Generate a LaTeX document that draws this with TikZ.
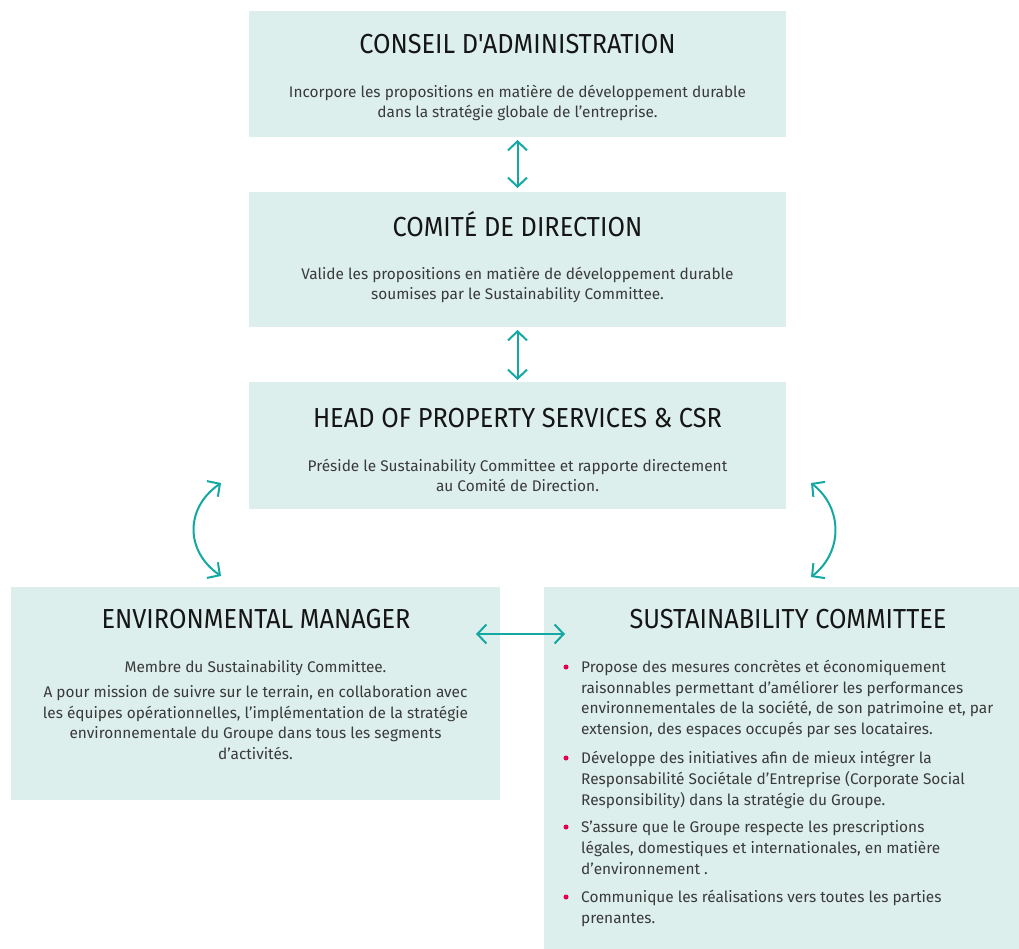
\documentclass[tikz,border=0pt]{standalone}
\usepackage{fontspec}
\setmainfont{Fira Sans}
\newfontfamily\titlefont[FakeStretch=0.92]{Fira Sans}
\usetikzlibrary{arrows.meta}
\definecolor{boxfill}{HTML}{DCEFED}
\definecolor{arrowteal}{HTML}{13A8A1}
\definecolor{bulletred}{HTML}{E2004C}
\definecolor{bodytext}{HTML}{3A3A3A}
\definecolor{titletext}{HTML}{151515}
\tikzset{
 box/.style={fill=boxfill, draw=none, anchor=north west, inner sep=0pt, outer sep=0pt},
 ttl/.style={anchor=base, font=\titlefont\fontsize{27.5}{30}\selectfont, text=titletext, inner sep=0pt},
 body/.style={anchor=base, font=\fontsize{15.4}{20}\selectfont, text=bodytext, inner sep=0pt},
 bodyl/.style={body, anchor=base west},
 link/.style={draw=arrowteal, line width=2pt, line cap=round, {Straight Barb[length=9pt,width=19pt]}-{Straight Barb[length=9pt,width=19pt]}},
 dot/.style={circle, fill=bulletred, minimum size=5pt, inner sep=0pt},
}
\begin{document}
\begin{tikzpicture}[x=1pt,y=-1pt]
\useasboundingbox (0,0) rectangle (1019,949);
% boxes
\node[box, minimum width=537pt, minimum height=126pt] (b1) at (249,11) {};
\node[box, minimum width=537pt, minimum height=135pt] (b2) at (249,192) {};
\node[box, minimum width=537pt, minimum height=127pt] (b3) at (249,382) {};
\node[box, minimum width=489pt, minimum height=213pt] (b4) at (11,587) {};
\node[box, minimum width=475pt, minimum height=362pt] (b5) at (544,587) {};
% box 1
\node[ttl] (t1) at (517.5,54) {CONSEIL D'ADMINISTRATION};
\node[body] (l11) at (517.5,98) {Incorpore les propositions en matière de développement durable};
\node[body] (l12) at (517.5,118) {dans la stratégie globale de l'entreprise.};
% box 2
\node[ttl] (t2) at (517.5,236.5) {COMITÉ DE DIRECTION};
\node[body] (l21) at (517.5,280) {Valide les propositions en matière de développement durable};
\node[body] (l22) at (517.5,300) {soumises par le Sustainability Committee.};
% box 3
\node[ttl] (t3) at (517.5,427) {HEAD OF PROPERTY SERVICES \& CSR};
\node[body] (l31) at (517.5,471) {Préside le Sustainability Committee et rapporte directement};
\node[body] (l32) at (517.5,491) {au Comité de Direction.};
% box 4
\node[ttl] (t4) at (256,628) {ENVIRONMENTAL MANAGER};
\node[body] (l41) at (255.5,672) {Membre du Sustainability Committee.};
\node[body] (l42) at (255.5,697) {A pour mission de suivre sur le terrain, en collaboration avec};
\node[body] (l43) at (255.5,718) {les équipes opérationnelles, l'implémentation de la stratégie};
\node[body] (l44) at (255.5,738) {environnementale du Groupe dans tous les segments};
\node[body] (l45) at (255.5,759) {d'activités.};
% box 5
\node[ttl] (t5) at (788,628) {SUSTAINABILITY COMMITTEE};
\node[dot] (d1) at (566,667) {};
\node[bodyl] (m11) at (581,672) {Propose des mesures concrètes et économiquement};
\node[bodyl] (m12) at (581,693) {raisonnables permettant d'améliorer les performances};
\node[bodyl] (m13) at (581,713) {environnementales de la société, de son patrimoine et, par};
\node[bodyl] (m14) at (581,734) {extension, des espaces occupés par ses locataires.};
\node[dot] (d2) at (566,758) {};
\node[bodyl] (m21) at (581,763) {Développe des initiatives afin de mieux intégrer la};
\node[bodyl] (m22) at (581,784) {Responsabilité Sociétale d'Entreprise (Corporate Social};
\node[bodyl] (m23) at (581,805) {Responsibility) dans la stratégie du Groupe.};
\node[dot] (d3) at (566,827) {};
\node[bodyl] (m31) at (581,832) {S'assure que le Groupe respecte les prescriptions};
\node[bodyl] (m32) at (581,853) {légales, domestiques et internationales, en matière};
\node[bodyl] (m33) at (581,874) {d'environnement .};
\node[dot] (d4) at (566,897) {};
\node[bodyl] (m41) at (581,902) {Communique les réalisations vers toutes les parties};
\node[bodyl] (m42) at (581,923) {prenantes.};
% connectors
\draw[link, shorten <=3pt, shorten >=4pt] (b1.south) -- (b2.north);
\draw[link, shorten <=3pt, shorten >=2pt] (b2.south) -- (b3.north);
\coordinate (h1) at (476,634);
\coordinate (h2) at (565,634);
\draw[link] (h1) -- (h2);
\coordinate (cl1) at (221,483);
\coordinate (cl2) at (221,576);
\draw[link] (cl1) .. controls (185,508) and (185,551) .. (cl2);
\coordinate (cr1) at (811,483);
\coordinate (cr2) at (811,577);
\draw[link] (cr1) .. controls (843,508) and (843,552) .. (cr2);
\end{tikzpicture}
\end{document}
